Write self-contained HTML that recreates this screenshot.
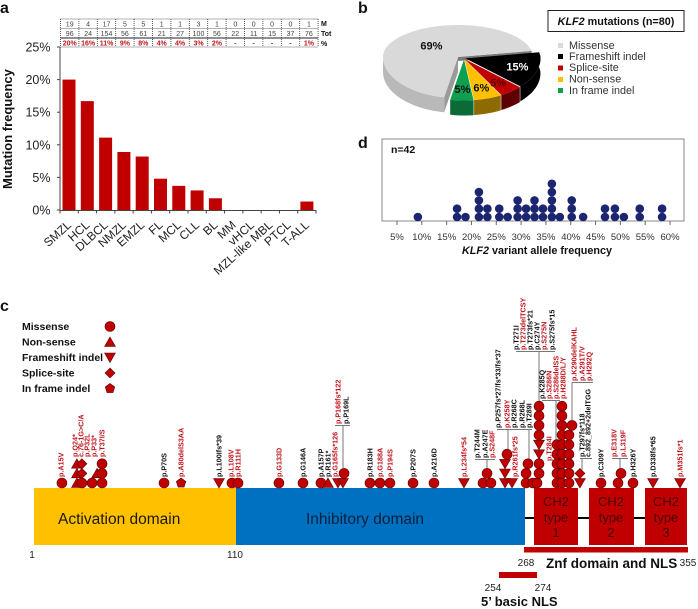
<!DOCTYPE html>
<html lang="en">
<head>
<meta charset="utf-8">
<title>KLF2 mutations figure</title>
<style>
html,body{margin:0;padding:0;background:#fff;}
svg{display:block;font-family:"Liberation Sans",sans-serif;}
</style>
</head>
<body>
<svg id="fig" width="698" height="609" viewBox="0 0 698 609" xmlns="http://www.w3.org/2000/svg">
  <g font-weight="bold" font-size="16" fill="#111">
    <text x="0" y="13">a</text>
    <text x="358" y="13">b</text>
    <text x="0" y="311">c</text>
    <text x="358" y="148">d</text>
  </g>

  <g id="panelA"></g>
  <text transform="translate(12 189) rotate(-90)" font-size="13" font-weight="bold" fill="#111">Mutation frequency</text>
  <g font-size="7" font-weight="bold" fill="#111">
    <text x="321" y="26">M</text>
    <text x="321" y="36">Tot</text>
    <text x="321" y="46">%</text>
  </g>

  <g id="panelB"></g>
  <g>
    <rect x="548" y="10.5" width="136" height="21" fill="#fff" stroke="#222" stroke-width="1"/>
    <text x="616" y="25" text-anchor="middle" font-size="10.8" font-weight="bold" fill="#111"><tspan font-style="italic">KLF2</tspan> mutations (n=80)</text>
    <g font-size="10.8" fill="#333">
      <rect x="558" y="43" width="5" height="5" fill="#d9d9d9"/>
      <text x="569" y="49">Missense</text>
      <rect x="558" y="54" width="5" height="5" fill="#000"/>
      <text x="569" y="60">Frameshift indel</text>
      <rect x="558" y="65.500" width="5" height="5" fill="#c00000"/>
      <text x="569" y="71">Splice-site</text>
      <rect x="558" y="77" width="5" height="5" fill="#ffc000"/>
      <text x="569" y="82.500">Non-sense</text>
      <rect x="558" y="88" width="5" height="5" fill="#0ea04f"/>
      <text x="569" y="94">In frame indel</text>
    </g>
  </g>

  <g id="panelD">
    <rect x="382" y="139" width="302" height="82" fill="#fff" stroke="#8a8a8a" stroke-width="1"/>
    <text x="391" y="153" font-size="10.500" font-weight="bold" fill="#111">n=42</text>
    <text x="537" y="254" text-anchor="middle" font-size="10.800" font-weight="bold" fill="#111"><tspan font-style="italic">KLF2</tspan> variant allele frequency</text>
  </g>

  <g font-size="10.500" font-weight="bold" fill="#111">
    <text x="22" y="330">Missense</text>
    <text x="22" y="345.500">Non-sense</text>
    <text x="22" y="361">Frameshift indel</text>
    <text x="22" y="376.500">Splice-site</text>
    <text x="22" y="392">In frame indel</text>
  </g>

  <g>
    <rect x="34" y="488" width="202" height="57" fill="#ffc000"/>
    <rect x="236" y="488" width="289" height="57" fill="#0070c0"/>
    <line x1="525" y1="518" x2="645" y2="518" stroke="#000" stroke-width="2"/>
    <rect x="534" y="488" width="44" height="57" fill="#c00000"/>
    <rect x="589" y="488" width="45" height="57" fill="#c00000"/>
    <rect x="645" y="488" width="42" height="57" fill="#c00000"/>
    <text x="58" y="524" font-size="15.500" fill="#1a1a00">Activation domain</text>
    <text x="306" y="524" font-size="15.500" fill="#04213f">Inhibitory domain</text>
    <g font-size="13" fill="#4a0000" text-anchor="middle">
      <text><tspan x="556" y="506">CH2</tspan><tspan x="556" y="522">type</tspan><tspan x="556" y="537">1</tspan></text>
      <text><tspan x="611" y="506">CH2</tspan><tspan x="611" y="522">type</tspan><tspan x="611" y="537">2</tspan></text>
      <text><tspan x="666" y="506">CH2</tspan><tspan x="666" y="522">type</tspan><tspan x="666" y="537">3</tspan></text>
    </g>
    <rect x="524" y="547" width="164" height="5.500" fill="#c00000"/>
    <rect x="499" y="572" width="38" height="6" fill="#c00000"/>
    <g font-size="10" fill="#222" text-anchor="middle">
      <text x="32" y="558">1</text>
      <text x="235" y="558">110</text>
      <text x="526" y="566">268</text>
      <text x="688" y="566">355</text>
      <text x="493" y="591">254</text>
      <text x="543" y="591">274</text>
    </g>
    <text x="546" y="568" font-size="13.500" font-weight="bold" fill="#111">Znf domain and NLS</text>
    <text x="481" y="606" font-size="13" font-weight="bold" fill="#111">5’ basic NLS</text>
  </g>

  <g fill="none" stroke="#777" stroke-width="1">
    <path d="M335 425.500H350M343 425.500V468"/>
    <path d="M475 459.500H495M487 459.500V470"/>
    <path d="M497 429.500H532M508 429.500V450M529 429.500V460"/>
    <path d="M516 351.500H555M539 351.500V402"/>
    <path d="M542 400.500H560M556 400.500V442"/>
    <path d="M572 382.500H593M572 382.500V420"/>
    <path d="M580 458.500H592M582 458.500V470"/>
    <path d="M612 458.500H628M620 458.500V470"/>
  </g>
  <g id="markers"></g>
  <g id="legendMarkers"></g>
  <g id="mutLabels" font-size="7.200" font-weight="bold"></g>
</svg>

<script>
// Panel a data
const cancerTypes = ['SMZL','HCL','DLBCL','NMZL','EMZL','FL','MCL','CLL','BL','MM','vHCL','MZL-like MBL','PTCL','T-ALL'];
const mutationFrequency = [20,16.7,11.1,8.9,8.2,4.8,3.7,3,1.8,0,0,0,0,1.3];
const mutatedCounts = ['19','4','17','5','5','1','1','3','1','0','0','0','0','1'];
const totalCounts = ['96','24','154','56','61','21','27','100','56','22','11','15','37','76'];
const percentLabels = ['20%','16%','11%','9%','8%','4%','4%','3%','2%','-','-','-','-','1%'];
const yTicks = [0,5,10,15,20,25];

// Panel b data
const pieCategories = ['missense','frameshift-indel','splice-site','non-sense','in-frame-indel'];
const pieValues = [69,15,5,6,5];

// Panel d data
const vafBins = [9.2,17.1,18.8,21.5,23.2,25.6,27.3,29.3,31,32.7,34.4,36.2,37.8,40.2,42.5,46.9,48.9,50.7,53.9,58.4];
const vafCounts = [1,2,1,4,2,2,1,3,2,3,2,5,1,3,1,2,2,1,2,2];
const vafTicks = [5,10,15,20,25,30,35,40,45,50,55,60];

// Panel c data: residue position, stack level, mutation type
const mutationResidue = [16.1,24.2,24.2,24.2,26.9,26.9,26.9,32.4,35.1,37.8,37.8,37.8,71.3,80.5,101,108,111.3,133.4,146.4,156.1,159.9,165.3,168,168.6,182.6,188,193.4,205.9,217.2,233.4,243.7,248,245.9,255.6,255.6,255.6,256.7,259.4,267,270.7,272.9,267,268,274,274,274,274,274,274,274,274,283.7,283.7,283.7,283.7,283.7,286.4,286.4,286.4,286.4,286.4,286.4,286.4,286.4,286.4,290.2,290.2,290.2,290.2,290.2,290.2,291.8,296.1,296.1,307.5,316.7,318.3,324.8,335.6,350.2];
const mutationStack = [0,0,1,2,0,1,2,0,1,0,1,2,0,0,0,0,0,0,0,0,0,0,0,1,0,0,0,0,0,0,0,0,1,0,1,2,3,0,0,0,0,1,2,1,2,3,4,5,6,7,8,0,1,2,3,4,0,1,2,3,4,5,6,7,8,0,1,2,3,4,5,6,0,1,0,0,1,0,0,0];
const mutationType = ['M','N','N','N','M','S','S','M','N','M','M','M','M','I','F','M','M','M','M','M','N','F','F','M','M','M','M','M','M','F','M','M','M','F','F','F','M','F','M','M','M','M','M','M','M','F','F','M','M','M','M','M','M','M','M','M','M','M','M','M','M','M','M','M','M','M','M','M','M','M','M','M','F','S','M','M','M','M','F','F'];
const legendTypes = ['M','N','F','S','I'];

const NS = 'http://www.w3.org/2000/svg';
function make(tag, attrs, parent) {
  const el = document.createElementNS(NS, tag);
  for (const k in attrs) el.setAttribute(k, attrs[k]);
  parent.appendChild(el);
  return el;
}

// ---- Panel a ----
const panelA = document.getElementById('panelA');
const yPct = v => 210 - v * 6.52;
const barCenter = i => 69 + i * 18.3;
const colCenter = i => 60.5 + (i + 0.5) * 18.4;

for (let r = 0; r < 4; r++) {
  const rowY = [19, 28.500, 38, 47][r];
  const rowLine = make('line', {x1: 60.5, x2: 318.1, y1: rowY, y2: rowY, stroke: r === 2 ? '#222' : '#333', 'stroke-width': r === 2 ? 1 : 0.8, 'stroke-dasharray': r === 2 ? 'none' : '1 1'}, panelA);
  
  
}
for (let c = 0; c <= cancerTypes.length; c++) {
  const colLine = make('line', {x1: 60.5 + c * 18.4, x2: 60.5 + c * 18.4, y1: 19, y2: 47, stroke: '#333', 'stroke-width': 0.8, 'stroke-dasharray': '1 1'}, panelA);
  
  
}
cancerTypes.forEach((name, i) => {
  const cx = colCenter(i);
  const mText = make('text', {x: cx, y: 26.500, 'text-anchor': 'middle', 'font-size': 7, fill: '#444'}, panelA);
  mText.textContent = mutatedCounts[i];
  
  
  const tText = make('text', {x: cx, y: 36, 'text-anchor': 'middle', 'font-size': 7, fill: '#444'}, panelA);
  tText.textContent = totalCounts[i];
  
  
  const pText = make('text', {x: cx, y: 45.500, 'text-anchor': 'middle', 'font-size': 7, 'font-weight': 'bold', fill: percentLabels[i] === '-' ? '#444' : '#c0141c'}, panelA);
  pText.textContent = percentLabels[i];
  
  

  const v = mutationFrequency[i];
  if (v > 0) {
    const bar = make('rect', {x: barCenter(i) - 6.5, y: yPct(v), width: 13, height: 210 - yPct(v), fill: '#c00000'}, panelA);
    
    
  }
  const cat = make('text', {transform: 'translate(' + (barCenter(i) + 3) + ' 226) rotate(-42)', 'text-anchor': 'end', 'font-size': 12, fill: '#222'}, panelA);
  cat.textContent = name;
  
  
});
const yAxis = make('line', {x1: 60, x2: 60, y1: yPct(25), y2: 210, stroke: '#444', 'stroke-width': 1}, panelA);


const xAxis = make('line', {x1: 60, x2: 316, y1: 210.500, y2: 210.500, stroke: '#444', 'stroke-width': 1}, panelA);


yTicks.forEach(t => {
  const tick = make('line', {x1: 57, x2: 60, y1: yPct(t), y2: yPct(t), stroke: '#444', 'stroke-width': 1}, panelA);
  
  
  const lab = make('text', {x: 50.500, y: yPct(t) + 4.500, 'text-anchor': 'end', 'font-size': 12.500, fill: '#222'}, panelA);
  lab.textContent = t + '%';
  
  
});
for (let i = 0; i <= cancerTypes.length; i++) {
  const tick = make('line', {x1: 60 + i * 18.286, x2: 60 + i * 18.286, y1: 210, y2: 213.500, stroke: '#444', 'stroke-width': 1}, panelA);
  
  
}

// ---- Panel b ----
const panelB = document.getElementById('panelB');
const pieTop = ['#d9d9d9','#000000','#c00000','#ffc000','#0ea04f'];
const pieSide = ['#b9b9b9','#000000','#5c0000','#8c6c00','#0b6b36'];
const pieText = ['#111','#fff','#5a0000','#111','#111'];
const RX = 75, RYBACK = 32, RYFRONT = 41, DEPTH = 15;
function piePoint(cx, cy, deg) {
  const a = deg * Math.PI / 180, s = Math.sin(a);
  return [cx + RX * Math.cos(a), cy + s * (s < 0 ? RYBACK : RYFRONT)];
}
function arcPoints(cx, cy, from, to) {
  const pts = [];
  const n = Math.max(2, Math.ceil((to - from) / 3));
  for (let k = 0; k <= n; k++) pts.push(piePoint(cx, cy, from + (to - from) * k / n));
  return pts;
}
const toPts = list => list.map(p => p[0].toFixed(1) + ',' + p[1].toFixed(1)).join(' ');
const pieTotal = pieValues.reduce((a, b) => a + b, 0);
const pieStart = -11; // frameshift slice starts here
const sliceAngles = [];
{
  let cursor = pieStart;
  for (let i = 1; i < pieValues.length; i++) {
    const span = pieValues[i] / pieTotal * 360;
    sliceAngles[i] = [cursor, cursor + span];
    cursor += span;
  }
  sliceAngles[0] = [cursor, pieStart + 360];
}
const sliceLabels = [];
pieValues.forEach((v, i) => {
  const [a0, a1] = sliceAngles[i];
  const mid = (a0 + a1) / 2;
  const rad = mid * Math.PI / 180;
  let cx, cy;
  if (i === 0) { cx = 458; cy = 57; }
  else { cx = 464 + 1.5 * Math.cos(rad); cy = 58 + 1.5 * Math.sin(rad); }
  if (i === 0) {
    const wall = make('polygon', {points: toPts([[cx, cy], piePoint(cx, cy, a0), [piePoint(cx, cy, a0)[0], piePoint(cx, cy, a0)[1] + DEPTH], [cx, cy + DEPTH]]), fill: '#9a9a9a'}, panelB);
    
    
    const wall2 = make('polygon', {points: toPts([[cx, cy], piePoint(cx, cy, a1), [piePoint(cx, cy, a1)[0], piePoint(cx, cy, a1)[1] + 4], [cx, cy + 4]]), fill: '#7a7a7a'}, panelB);
    
    
  }
  const visFrom = Math.max(a0, i === 1 ? a0 : 0), visTo = Math.min(a1, 180);
  if (visTo > visFrom) {
    const topArc = arcPoints(cx, cy, visFrom, visTo);
    const botArc = topArc.map(p => [p[0], p[1] + DEPTH]).reverse();
    const side = make('polygon', {points: toPts(topArc.concat(botArc)), fill: pieSide[i]}, panelB);
    
    
  }
  const top = make('polygon', {points: toPts([[cx, cy]].concat(arcPoints(cx, cy, a0, a1))), fill: pieTop[i]}, panelB);
  
  
  const f = i === 0 ? 0.5 : 0.72;
  const s = Math.sin(rad);
  sliceLabels.push({x: cx + f * RX * Math.cos(rad), y: cy + f * s * (s < 0 ? RYBACK : RYFRONT) + 4, t: v + '%', c: pieText[i]});
});
sliceLabels.forEach(l => {
  const txt = make('text', {x: l.x, y: l.y, 'text-anchor': 'middle', 'font-size': 11, 'font-weight': 'bold', fill: l.c}, panelB);
  txt.textContent = l.t;
  
  
});

// ---- Panel d ----
const panelD = document.getElementById('panelD');
const xVaf = v => 397 + (v - 5) * 4.964;
const stackY = k => 217 - k * 8.3;
vafTicks.forEach(t => {
  const tick = make('line', {x1: xVaf(t), x2: xVaf(t), y1: 221, y2: 225, stroke: '#666', 'stroke-width': 1}, panelD);
  
  
  const lab = make('text', {x: xVaf(t), y: 240, 'text-anchor': 'middle', 'font-size': 9.500, fill: '#333'}, panelD);
  lab.textContent = t + '%';
  
  
});
vafBins.forEach((v, i) => {
  for (let k = 0; k < vafCounts[i]; k++) {
    const dot = make('circle', {cx: xVaf(v), cy: stackY(k), r: 4.300, fill: '#1c2570'}, panelD);
    
    
  }
});

// ---- Panel c markers ----
const xResidue = aa => 34 + (aa - 1) * 1.85;
const stackLevelY = l => 483 - l * 9.6;
function drawMarker(type, x, y, parent) {
  const style = {fill: '#c00000', stroke: '#5a0000', 'stroke-width': 0.6};
  const r = 5;
  let el;
  if (type === 'M') {
    el = make('circle', Object.assign({cx: x, cy: y, r: r}, style), parent);
  } else if (type === 'N') {
    el = make('polygon', Object.assign({points: [[x, y - r], [x + r + 0.4, y + r - 0.6], [x - r - 0.4, y + r - 0.6]].join(' ')}, style), parent);
  } else if (type === 'F') {
    el = make('polygon', Object.assign({points: [[x, y + r], [x + r + 0.4, y - r + 0.6], [x - r - 0.4, y - r + 0.6]].join(' ')}, style), parent);
  } else if (type === 'S') {
    el = make('polygon', Object.assign({points: [[x, y - r], [x + r, y], [x, y + r], [x - r, y]].join(' ')}, style), parent);
  } else {
    const pts = [];
    for (let k = 0; k < 5; k++) {
      const a = (-90 + k * 72) * Math.PI / 180;
      pts.push([x + r * Math.cos(a), y + r * Math.sin(a)]);
    }
    el = make('polygon', Object.assign({points: pts.join(' ')}, style), parent);
  }
  return el;
}
const markerGroup = document.getElementById('markers');
mutationResidue.forEach((aa, i) => {
  const m = drawMarker(mutationType[i], xResidue(aa), stackLevelY(mutationStack[i]), markerGroup);
  
  
});
const legendGroup = document.getElementById('legendMarkers');
legendTypes.forEach((t, i) => {
  const m = drawMarker(t, 110, 326.500 + i * 15.5, legendGroup);
  
  
});

// ---- Panel c rotated labels ----
const labelGroup = document.getElementById('mutLabels');
function lab(text, x, bottom, red) {
  const t = make('text', {transform: 'translate(' + (x + 2.5) + ' ' + bottom + ') rotate(-90)', fill: red ? '#c0141c' : '#111'}, labelGroup);
  t.textContent = text;
  
  
}
lab('p.A15V', 61, 477, 1);
lab('p.Q24*', 75, 457, 1);
lab('c.76-1G>C/A', 81, 457, 1);
lab('p.P32L', 87, 457, 1);
lab('p.P33*', 94, 457, 1);
lab('p.T37I/S', 102, 457, 1);
lab('p.P70S', 164, 477, 0);
lab('p.A80delS3AA', 181, 477, 1);
lab('p.L100Ifs*39', 219, 477, 0);
lab('p.L108V', 231, 477, 1);
lab('p.R111H', 238, 477, 1);
lab('p.G133D', 279, 477, 1);
lab('p.G146A', 303, 477, 0);
lab('p.A157P', 321, 477, 0);
lab('p.R161*', 328, 477, 0);
lab('p.G165fs*126', 335, 477, 1);
lab('p.P168fs*122', 338, 424, 1);
lab('p.P169L', 346, 424, 0);
lab('p.R183H', 370, 477, 0);
lab('p.G188A', 380, 477, 1);
lab('p.P194S', 390, 477, 1);
lab('p.P207S', 413, 477, 0);
lab('p.A216D', 434, 477, 0);
lab('p.L234fs*54', 464, 477, 1);
lab('p.T244M', 477, 458, 0);
lab('p.A247E', 485, 458, 0);
lab('p.S248F', 492, 458, 1);
lab('p.P257fs*27/fs*33/fs*37', 498, 428, 0);
lab('p.K258Y', 507, 428, 1);
lab('p.R268C', 514, 428, 0);
lab('p.R268L', 522, 428, 0);
lab('p.T289I', 529, 428, 0);
lab('p.R261fs*25', 515, 477, 1);
lab('p.T271I', 516, 350, 0);
lab('p.T273delTCSY', 523, 350, 1);
lab('p.T273fs*21', 530, 350, 0);
lab('p.C274Y', 537, 350, 0);
lab('p.S275N', 544, 350, 1);
lab('p.S275fs*15', 552, 350, 0);
lab('p.K285Q', 542, 399, 0);
lab('p.S286N', 549, 399, 1);
lab('p.S286delSS', 556, 399, 1);
lab('p.H288D/L/Y', 563, 399, 1);
lab('p.T284I', 549, 461, 1);
lab('p.K290delKAHL', 574, 381, 1);
lab('p.A291T/V', 582, 381, 1);
lab('p.H292Q', 589, 381, 1);
lab('p.T297fs*118', 582, 457, 0);
lab('c.892_892+2delTGG', 588, 457, 0);
lab('p.C309Y', 601, 477, 0);
lab('p.E318V', 614, 457, 1);
lab('p.L319F', 623, 457, 1);
lab('p.H326Y', 633, 477, 0);
lab('p.D338fs*65', 653, 477, 0);
lab('p.M351fs*1', 680, 477, 1);
</script>
</body>
</html>
